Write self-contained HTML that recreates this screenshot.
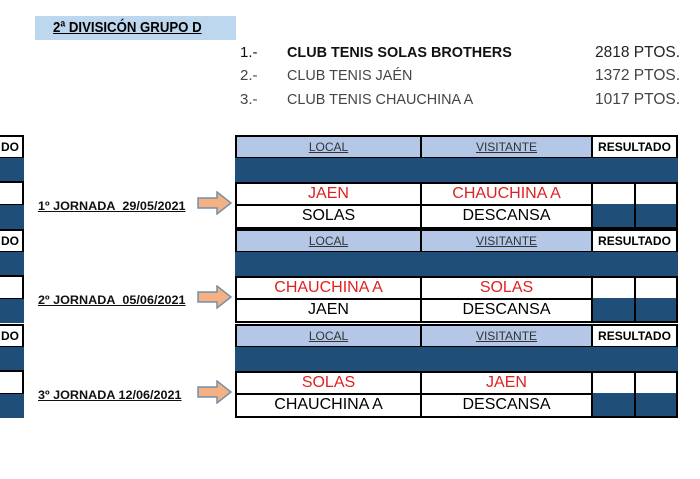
<!DOCTYPE html><html><head><style>
body{margin:0;width:700px;height:479px;background:#fff;position:relative;overflow:hidden;font-family:"Liberation Sans",Arial,sans-serif}
div{position:absolute;box-sizing:border-box}
.t{white-space:nowrap}
.hd{background:#b4c7e7;border:2px solid #000;font-size:12px;color:#333;text-align:center;line-height:20px;text-decoration:underline}
.dk{background:#1f4e79}
.w{background:#fff;border:2px solid #000;text-align:center;font-size:16px;line-height:20px}
.r{color:#e02020}
.res{background:#fff;border:2px solid #000;font-size:12px;font-weight:bold;text-align:center;line-height:20px}
.lbl{font-size:12px;font-weight:bold;text-decoration:underline;color:#111;transform:scaleX(1.05);transform-origin:left}
</style></head><body>
<div style="left:35px;top:16px;width:201px;height:24px;background:#bdd7ee"></div>
<div class="t" style="left:53px;top:19px;font-size:15px;font-weight:bold;text-decoration:underline;transform:scaleX(.88);transform-origin:left">2ª DIVISICÓN GRUPO D</div>
<div class="t" style="left:240px;top:44px;font-size:15px;color:#111">1.-</div>
<div class="t" style="left:287px;top:44px;font-size:15px;font-weight:bold;color:#111;transform:scaleX(.96);transform-origin:left">CLUB TENIS SOLAS BROTHERS</div>
<div class="t" style="left:595px;top:44px;font-size:15.5px;color:#222">2818 PTOS.</div>
<div class="t" style="left:240px;top:67px;font-size:15px;color:#444">2.-</div>
<div class="t" style="left:287px;top:67px;font-size:15px;color:#444;transform:scaleX(.96);transform-origin:left">CLUB TENIS JAÉN</div>
<div class="t" style="left:595px;top:67px;font-size:15.5px;color:#444">1372 PTOS.</div>
<div class="t" style="left:240px;top:91px;font-size:15px;color:#444">3.-</div>
<div class="t" style="left:287px;top:91px;font-size:15px;color:#444;transform:scaleX(.96);transform-origin:left">CLUB TENIS CHAUCHINA A</div>
<div class="t" style="left:595px;top:91px;font-size:15.5px;color:#444">1017 PTOS.</div>

<!-- Block 1 -->
<div class="res" style="left:-60px;top:135px;width:84px;height:24px;text-align:right;padding-right:3px">DO</div>
<div class="dk" style="left:0;top:158px;width:24px;height:24px"></div>
<div class="w" style="left:-4px;top:181px;width:28px;height:25px"></div>
<div class="dk" style="left:0;top:205px;width:24px;height:24px"></div>
<div class="hd" style="left:235px;top:135px;width:187px;height:24px">LOCAL</div>
<div class="hd" style="left:420px;top:135px;width:173px;height:24px">VISITANTE</div>
<div class="res" style="left:591px;top:135px;width:87px;height:24px">RESULTADO</div>
<div class="dk" style="left:235px;top:158px;width:443px;height:24px"></div>
<div class="w r" style="left:235px;top:182px;width:187px;height:24px">JAEN</div>
<div class="w r" style="left:420px;top:182px;width:173px;height:24px">CHAUCHINA A</div>
<div class="w" style="left:591px;top:182px;width:45px;height:24px"></div>
<div class="w" style="left:634px;top:182px;width:44px;height:24px"></div>
<div class="w" style="left:235px;top:204px;width:187px;height:25px">SOLAS</div>
<div class="w" style="left:420px;top:204px;width:173px;height:25px">DESCANSA</div>
<div class="dk" style="left:591px;top:204px;width:87px;height:25px;border:2px solid #000;border-top:0"></div>
<div class="dk" style="left:634px;top:204px;width:2px;height:25px;background:#000"></div>
<div class="t lbl" style="left:38px;top:199px">1º JORNADA&nbsp; 29/05/2021</div>
<svg style="position:absolute;left:197px;top:191px" width="36" height="24"><path d="M1 7H20V1L34 12L20 23V17H1Z" fill="#f4b183" stroke="#7590a8" stroke-width="1.5"/></svg>

<!-- Block 2 -->
<div class="res" style="left:-60px;top:229px;width:84px;height:24px;text-align:right;padding-right:3px">DO</div>
<div class="dk" style="left:0;top:252px;width:24px;height:24px"></div>
<div class="w" style="left:-4px;top:275px;width:28px;height:25px"></div>
<div class="dk" style="left:0;top:299px;width:24px;height:24px"></div>
<div class="hd" style="left:235px;top:229px;width:187px;height:24px">LOCAL</div>
<div class="hd" style="left:420px;top:229px;width:173px;height:24px">VISITANTE</div>
<div class="res" style="left:591px;top:229px;width:87px;height:24px">RESULTADO</div>
<div class="dk" style="left:235px;top:252px;width:443px;height:24px"></div>
<div class="w r" style="left:235px;top:276px;width:187px;height:24px">CHAUCHINA A</div>
<div class="w r" style="left:420px;top:276px;width:173px;height:24px">SOLAS</div>
<div class="w" style="left:591px;top:276px;width:45px;height:24px"></div>
<div class="w" style="left:634px;top:276px;width:44px;height:24px"></div>
<div class="w" style="left:235px;top:298px;width:187px;height:25px">JAEN</div>
<div class="w" style="left:420px;top:298px;width:173px;height:25px">DESCANSA</div>
<div class="dk" style="left:591px;top:298px;width:87px;height:25px;border:2px solid #000;border-top:0"></div>
<div class="dk" style="left:634px;top:298px;width:2px;height:25px;background:#000"></div>
<div class="t lbl" style="left:38px;top:293px">2º JORNADA&nbsp; 05/06/2021</div>
<svg style="position:absolute;left:197px;top:285px" width="36" height="24"><path d="M1 7H20V1L34 12L20 23V17H1Z" fill="#f4b183" stroke="#7590a8" stroke-width="1.5"/></svg>

<!-- Block 3 -->
<div class="res" style="left:-60px;top:324px;width:84px;height:24px;text-align:right;padding-right:3px">DO</div>
<div class="dk" style="left:0;top:347px;width:24px;height:24px"></div>
<div class="w" style="left:-4px;top:370px;width:28px;height:25px"></div>
<div class="dk" style="left:0;top:394px;width:24px;height:24px"></div>
<div class="hd" style="left:235px;top:324px;width:187px;height:24px">LOCAL</div>
<div class="hd" style="left:420px;top:324px;width:173px;height:24px">VISITANTE</div>
<div class="res" style="left:591px;top:324px;width:87px;height:24px">RESULTADO</div>
<div class="dk" style="left:235px;top:347px;width:443px;height:24px"></div>
<div class="w r" style="left:235px;top:371px;width:187px;height:24px">SOLAS</div>
<div class="w r" style="left:420px;top:371px;width:173px;height:24px">JAEN</div>
<div class="w" style="left:591px;top:371px;width:45px;height:24px"></div>
<div class="w" style="left:634px;top:371px;width:44px;height:24px"></div>
<div class="w" style="left:235px;top:393px;width:187px;height:25px">CHAUCHINA A</div>
<div class="w" style="left:420px;top:393px;width:173px;height:25px">DESCANSA</div>
<div class="dk" style="left:591px;top:393px;width:87px;height:25px;border:2px solid #000;border-top:0"></div>
<div class="dk" style="left:634px;top:393px;width:2px;height:25px;background:#000"></div>
<div class="t lbl" style="left:38px;top:388px">3º JORNADA 12/06/2021</div>
<svg style="position:absolute;left:197px;top:380px" width="36" height="24"><path d="M1 7H20V1L34 12L20 23V17H1Z" fill="#f4b183" stroke="#7590a8" stroke-width="1.5"/></svg>
</body></html>
